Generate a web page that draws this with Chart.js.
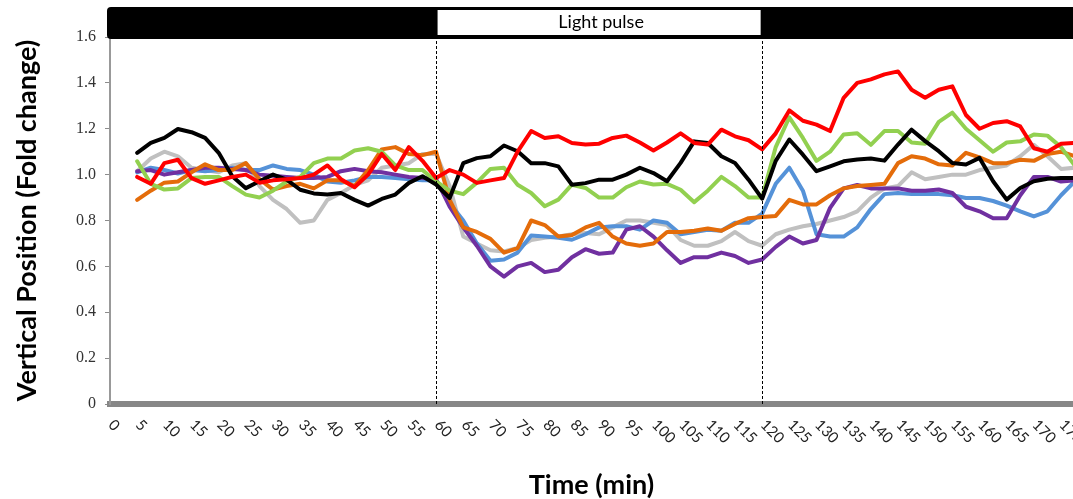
<!DOCTYPE html>
<html>
<head>
<meta charset="utf-8">
<script src="https://cdn.jsdelivr.net/npm/chart.js@4.4.1/dist/chart.umd.min.js"></script>
<style>
html,body{margin:0;padding:0;background:#fff;}
#wrap{width:1073px;height:499px;position:relative;}
</style>
</head>
<body>
<div id="wrap"><canvas id="c" width="1073" height="499"></canvas></div>
<script>
// ---- data (minutes, fold change) ----
const times = [5,7.5,10,12.5,15,17.5,20,22.5,25,27.5,30,32.5,35,37.5,40,42.5,45,47.5,50,52.5,55,57.5,60,62.5,65,67.5,70,72.5,75,77.5,80,82.5,85,87.5,90,92.5,95,97.5,100,102.5,105,107.5,110,112.5,115,117.5,120,122.5,125,127.5,130,132.5,135,137.5,140,142.5,145,147.5,150,152.5,155,157.5,160,162.5,165,167.5,170,172.5,175,177.5];

const seriesRed = [0.99,0.96,1.05,1.065,0.985,0.96,0.975,0.99,1.0,0.965,0.975,0.98,0.985,1.0,1.04,0.98,0.945,1.0,1.09,1.02,1.12,1.06,0.985,1.02,1.0,0.964,0.975,0.985,1.1,1.19,1.16,1.167,1.138,1.131,1.135,1.16,1.17,1.14,1.105,1.14,1.18,1.138,1.131,1.196,1.167,1.15,1.11,1.18,1.28,1.235,1.218,1.19,1.335,1.4,1.415,1.437,1.45,1.37,1.335,1.37,1.385,1.26,1.2,1.225,1.233,1.21,1.115,1.1,1.135,1.138];
const seriesBlack = [1.095,1.138,1.16,1.199,1.185,1.16,1.095,0.993,0.941,0.971,1.0,0.978,0.934,0.918,0.913,0.92,0.89,0.865,0.894,0.913,0.964,0.993,0.957,0.898,1.05,1.072,1.08,1.127,1.102,1.05,1.05,1.036,0.956,0.963,0.978,0.978,1.0,1.03,1.007,0.971,1.051,1.145,1.138,1.08,1.051,0.978,0.895,1.06,1.153,1.087,1.015,1.036,1.058,1.066,1.07,1.061,1.131,1.196,1.146,1.102,1.051,1.044,1.073,0.971,0.891,0.942,0.971,0.982,0.985,0.985];
const seriesGreen = [1.058,0.96,0.935,0.94,0.985,0.99,0.99,0.95,0.913,0.9,0.93,0.97,0.99,1.05,1.07,1.07,1.105,1.115,1.1,1.04,1.02,1.02,0.97,0.93,0.915,0.965,1.025,1.03,0.956,0.92,0.862,0.891,0.956,0.942,0.9,0.9,0.945,0.97,0.957,0.96,0.934,0.88,0.93,0.99,0.95,0.9,0.9,1.12,1.25,1.16,1.06,1.1,1.175,1.18,1.13,1.19,1.19,1.14,1.135,1.23,1.27,1.2,1.15,1.1,1.14,1.145,1.175,1.17,1.12,1.04];
const seriesOrange = [0.89,0.93,0.965,0.97,1.01,1.045,1.02,1.02,1.05,0.98,0.935,0.95,0.96,0.94,0.975,0.975,0.95,1.02,1.11,1.12,1.09,1.085,1.1,0.89,0.77,0.75,0.72,0.66,0.68,0.8,0.78,0.73,0.737,0.77,0.79,0.73,0.7,0.69,0.7,0.75,0.75,0.755,0.765,0.755,0.785,0.81,0.815,0.82,0.89,0.87,0.87,0.91,0.94,0.95,0.955,0.96,1.05,1.08,1.07,1.045,1.04,1.095,1.075,1.05,1.05,1.065,1.06,1.09,1.1,1.08];
const seriesPurple = [1.015,1.02,1.0,1.01,1.02,1.03,1.03,1.025,1.02,1.0,0.995,0.99,0.985,0.985,0.99,1.015,1.025,1.015,1.01,1.0,0.99,0.985,0.98,0.86,0.77,0.69,0.6,0.555,0.6,0.615,0.575,0.585,0.64,0.675,0.655,0.66,0.76,0.775,0.73,0.67,0.615,0.64,0.64,0.66,0.645,0.615,0.63,0.685,0.73,0.7,0.715,0.855,0.94,0.955,0.94,0.94,0.94,0.93,0.93,0.935,0.92,0.86,0.84,0.81,0.81,0.91,0.99,0.99,0.97,0.975];
const seriesBlue = [1.01,1.03,1.02,1.005,1.02,1.015,1.02,1.03,1.02,1.02,1.04,1.025,1.02,1.0,0.97,0.965,0.975,0.99,0.99,0.985,0.98,0.975,0.975,0.875,0.8,0.7,0.625,0.63,0.66,0.735,0.73,0.725,0.716,0.74,0.77,0.775,0.775,0.76,0.8,0.79,0.74,0.75,0.76,0.755,0.79,0.79,0.83,0.96,1.03,0.93,0.74,0.73,0.73,0.77,0.85,0.915,0.92,0.915,0.915,0.915,0.91,0.898,0.898,0.885,0.865,0.84,0.818,0.84,0.91,0.97];
const seriesGray = [1.015,1.07,1.1,1.08,1.03,1.02,1.01,1.04,1.05,0.95,0.89,0.85,0.79,0.8,0.89,0.92,0.955,0.975,1.03,1.04,1.05,1.09,1.09,0.95,0.73,0.7,0.67,0.665,0.68,0.715,0.725,0.73,0.74,0.745,0.74,0.77,0.8,0.8,0.79,0.78,0.715,0.69,0.69,0.71,0.75,0.71,0.69,0.74,0.76,0.775,0.785,0.8,0.815,0.84,0.9,0.94,0.95,1.01,0.98,0.99,1.0,1.0,1.02,1.03,1.04,1.08,1.13,1.08,1.025,1.03];

const xTickValues = [0,5,10,15,20,25,30,35,40,45,50,55,60,65,70,75,80,85,90,95,100,105,110,115,120,125,130,135,140,145,150,155,160,165,170,175];
const yTickValues = [0,0.2,0.4,0.6,0.8,1.0,1.2,1.4,1.6];
const yTickLabels = ['0','0.2','0.4','0.6','0.8','1.0','1.2','1.4','1.6'];
const pulseStart = 60;
const pulseEnd = 120;
const pulseLabel = 'Light pulse';
const xTitle = 'Time (min)';
const yTitle = 'Vertical Position (Fold change)';
const xMax = 177.2;

// ---- chart ----
function pts(vals){ return vals.map((v,i)=>({x:times[i], y:v})); }
function ds(vals, color){
  return {data: pts(vals), borderColor: color, backgroundColor: color, borderWidth: 4,
          pointRadius: 0, tension: 0, borderJoinStyle: 'round', borderCapStyle: 'round', fill: false};
}

const pulsePlugin = {
  id: 'pulse',
  afterDraw(chart){
    const {ctx, chartArea, scales:{x}} = chart;
    const x1 = x.getPixelForValue(pulseStart);
    const x2 = x.getPixelForValue(pulseEnd);
    ctx.save();
    ctx.fillStyle = '#000';
    const bx = chartArea.left - 3, by = 7, bw = chart.width - bx + 10, bh = 32, r = 4;
    ctx.beginPath();
    ctx.moveTo(bx + r, by);
    ctx.lineTo(bx + bw, by);
    ctx.lineTo(bx + bw, by + bh);
    ctx.lineTo(bx + r, by + bh);
    ctx.arcTo(bx, by + bh, bx, by + bh - r, r);
    ctx.lineTo(bx, by + r);
    ctx.arcTo(bx, by, bx + r, by, r);
    ctx.closePath();
    ctx.fill();
    ctx.fillStyle = '#fff';
    ctx.fillRect(x1 + 1.5, 10, x2 - x1 - 3, 25);
    ctx.fillStyle = '#000';
    ctx.font = '18px Lato';
    ctx.textAlign = 'center';
    ctx.textBaseline = 'middle';
    ctx.fillText(pulseLabel, (x1 + x2) / 2 + 2, 22);
    ctx.strokeStyle = '#000';
    ctx.lineWidth = 1;
    ctx.setLineDash([3, 2]);
    [x1, x2].forEach(px => {
      const p = Math.round(px) + 0.5;
      ctx.beginPath();
      ctx.moveTo(p, 36);
      ctx.lineTo(p, chartArea.bottom);
      ctx.stroke();
    });
    ctx.restore();
  }
};

new Chart(document.getElementById('c'), {
  type: 'line',
  data: {
    datasets: [
      ds(seriesRed, '#ff0000'),
      ds(seriesBlack, '#000000'),
      ds(seriesGreen, '#92d050'),
      ds(seriesOrange, '#e46c0a'),
      ds(seriesPurple, '#7030a0'),
      ds(seriesBlue, '#5592d8'),
      ds(seriesGray, '#c0c0c0')
    ]
  },
  options: {
    responsive: false,
    animation: false,
    devicePixelRatio: 1,
    layout: {padding: {top: 37, right: 0, bottom: 0, left: 0}},
    plugins: {legend: {display: false}, tooltip: {enabled: false}},
    scales: {
      x: {
        type: 'linear',
        min: 0,
        max: xMax,
        afterBuildTicks(scale){ scale.ticks = xTickValues.map(v => ({value: v})); },
        afterFit(scale){
          scale.height = 95;
          scale._getXAxisLabelAlignment = function(){ return 'left'; };
        },
        grid: {display: true, drawOnChartArea: false, drawTicks: false},
        border: {display: true, color: '#878787', width: 6},
        ticks: {
          autoSkip: false, minRotation: -45, maxRotation: -45,
          padding: 12, labelOffset: 1,
          font: {family: 'Lato', size: 15}, color: '#222',
          callback: (v) => String(v)
        },
        title: {display: true, text: xTitle, font: {family: 'Lato', size: 27, weight: 'bold'},
                color: '#000', padding: {top: 0, bottom: -2}}
      },
      y: {
        min: 0,
        max: 1.6,
        afterBuildTicks(scale){ scale.ticks = yTickValues.map(v => ({value: v})); },
        afterFit(scale){ scale.width = 110; },
        grid: {display: true, drawOnChartArea: false, drawTicks: true, tickLength: 5, color: '#8c8c8c', lineWidth: 1},
        border: {display: true, color: '#999', width: 2},
        ticks: {
          padding: 9,
          font: {family: 'Liberation Serif', size: 16}, color: '#333',
          callback: (v) => { const i = yTickValues.findIndex(t => Math.abs(t - v) < 1e-6); return i >= 0 ? yTickLabels[i] : ''; }
        },
        title: {display: true, text: yTitle, font: {family: 'Lato', size: 27, weight: 'bold'},
                color: '#000', padding: {top: 11, bottom: 0}}
      }
    }
  },
  plugins: [pulsePlugin]
});
</script>
</body>
</html>
